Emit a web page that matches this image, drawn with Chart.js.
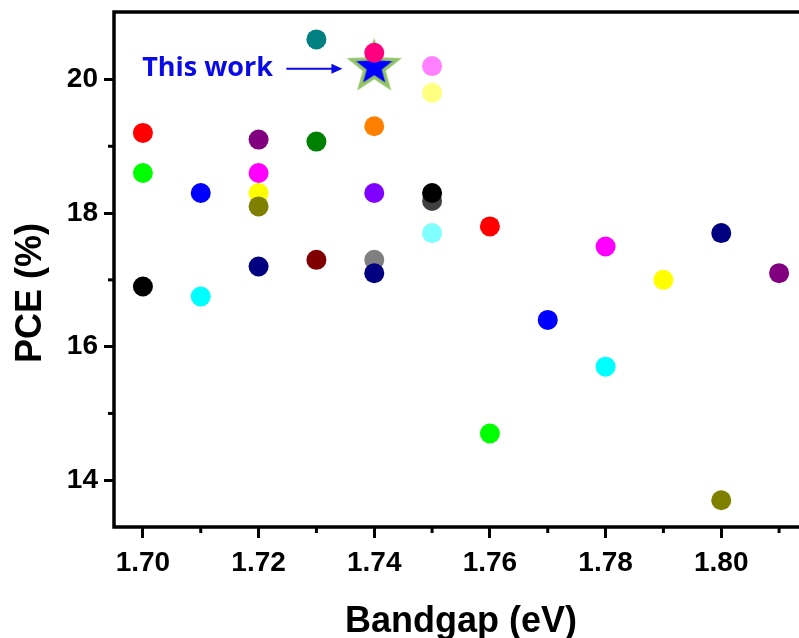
<!DOCTYPE html>
<html>
<head>
<meta charset="utf-8">
<script src="https://cdn.jsdelivr.net/npm/chart.js@4"></script>
<style>
  html, body { margin: 0; padding: 0; background: #fff; overflow: hidden; }
  canvas { display: block; }
</style>
</head>
<body>
<canvas id="pceChart" width="812" height="638"></canvas>
<script>
// valores
const bandgap = [1.70, 1.70, 1.70, 1.71, 1.71, 1.72, 1.72, 1.72, 1.72, 1.72,
                 1.73, 1.73, 1.73, 1.74, 1.74, 1.74, 1.74, 1.74,
                 1.75, 1.75, 1.75, 1.75, 1.75, 1.76, 1.76, 1.77, 1.78, 1.78,
                 1.79, 1.80, 1.80, 1.81];
const pce = [19.2, 18.6, 16.9, 18.3, 16.75, 19.1, 18.6, 18.3, 18.1, 17.2,
             20.6, 19.07, 17.3, 20.4, 19.3, 18.3, 17.3, 17.1,
             20.2, 19.8, 18.18, 18.3, 17.7, 17.8, 14.7, 16.4, 17.5, 15.7,
             17.0, 17.7, 13.7, 17.1];
const pointColors = ['#ff0000', '#00ff00', '#000000', '#0000ff', '#00ffff',
                     '#800080', '#ff00ff', '#ffff00', '#808000', '#000080',
                     '#008080', '#008000', '#800000',
                     '#ff0080', '#ff8000', '#8000ff', '#808080', '#000080',
                     '#ff80ff', '#ffff80', '#404040', '#000000', '#80ffff',
                     '#ff0000', '#00ff00', '#0000ff', '#ff00ff', '#00ffff',
                     '#ffff00', '#000080', '#808000', '#800080'];

const thisWork = { x: 1.74, y: 20.2 };

const xMajor = [1.70, 1.72, 1.74, 1.76, 1.78, 1.80];
const xMinor = [1.71, 1.73, 1.75, 1.77, 1.79, 1.81];
const yMajor = [14, 16, 18, 20];
const yMinor = [15, 17, 19];

// estrela de cinco pontas (o 'star' do Chart.js e so um asterisco)
function makeStar() {
  const c = document.createElement('canvas');
  c.width = 56; c.height = 56;
  const g = c.getContext('2d');
  g.beginPath();
  for (let i = 0; i < 10; i++) {
    const r = i % 2 === 0 ? 24 : 10;
    const a = -Math.PI / 2 + i * Math.PI / 5;
    const px = 28 + r * Math.cos(a), py = 29 + r * Math.sin(a);
    if (i === 0) g.moveTo(px, py); else g.lineTo(px, py);
  }
  g.closePath();
  g.fillStyle = '#0000ff';
  g.fill();
  g.lineWidth = 3.5;
  g.lineJoin = 'miter';
  g.strokeStyle = '#94c46a';
  g.stroke();
  return c;
}

// moldura, ticks menores, titulos e a anotacao "This work"
const extras = {
  id: 'extras',
  afterDraw(chart) {
    const ctx = chart.ctx;
    const a = chart.chartArea;
    const xs = chart.scales.x, ys = chart.scales.y;
    ctx.save();
    ctx.strokeStyle = '#000';
    ctx.lineWidth = 3.5;
    ctx.strokeRect(a.left, a.top, a.right - a.left, a.bottom - a.top);

    ctx.lineWidth = 3;
    xMinor.forEach(v => {
      const px = xs.getPixelForValue(v);
      ctx.beginPath(); ctx.moveTo(px, a.bottom); ctx.lineTo(px, a.bottom + 6); ctx.stroke();
    });
    yMinor.forEach(v => {
      const py = ys.getPixelForValue(v);
      ctx.beginPath(); ctx.moveTo(a.left, py); ctx.lineTo(a.left - 6, py); ctx.stroke();
    });

    ctx.fillStyle = '#000';
    ctx.font = 'bold 36px "Liberation Sans", Arial, sans-serif';
    ctx.textAlign = 'center';
    ctx.textBaseline = 'alphabetic';
    ctx.fillText('Bandgap (eV)', (a.left + a.right) / 2, 632);
    ctx.save();
    ctx.translate(41, 293);
    ctx.rotate(-Math.PI / 2);
    ctx.fillText('PCE (%)', 0, 0);
    ctx.restore();

    // anotacao
    const ty = ys.getPixelForValue(20.16);
    ctx.fillStyle = '#0a0ae6';
    ctx.font = 'bold 27px "Open Sans", "Noto Sans", sans-serif';
    ctx.textAlign = 'right';
    ctx.textBaseline = 'middle';
    ctx.fillText('This work', xs.getPixelForValue(1.7225), ty);
    const x0 = xs.getPixelForValue(1.7248), x1 = xs.getPixelForValue(1.7345);
    ctx.strokeStyle = '#0a0ae6';
    ctx.lineWidth = 2;
    ctx.beginPath(); ctx.moveTo(x0, ty); ctx.lineTo(x1 - 4, ty); ctx.stroke();
    ctx.fillStyle = '#0a0ae6';
    ctx.beginPath();
    ctx.moveTo(x1, ty); ctx.lineTo(x1 - 11, ty - 5); ctx.lineTo(x1 - 11, ty + 5);
    ctx.closePath(); ctx.fill();
    ctx.restore();
  }
};

const tickFont = { family: '"Liberation Sans", Arial, sans-serif', size: 28, weight: 'bold' };

new Chart(document.getElementById('pceChart').getContext('2d'), {
  type: 'scatter',
  data: {
    datasets: [{
      data: bandgap.map((b, i) => ({ x: b, y: pce[i] })),
      backgroundColor: pointColors,
      borderWidth: 0,
      pointRadius: 10,
      pointHoverRadius: 10
    }, {
      data: [thisWork],
      pointStyle: makeStar(),
      borderWidth: 0,
      pointRadius: 10,
      pointHoverRadius: 10
    }]
  },
  options: {
    responsive: false,
    animation: false,
    devicePixelRatio: 1,
    layout: { autoPadding: false, padding: { top: 12, right: 4, left: 0, bottom: 0 } },
    plugins: { legend: { display: false }, tooltip: { enabled: false } },
    scales: {
      x: {
        type: 'linear',
        min: 1.695,
        max: 1.815,
        afterBuildTicks: s => { s.ticks = xMajor.map(v => ({ value: v })); },
        afterFit: s => { s.height = 111; s.paddingLeft = 0; s.paddingRight = 0; },
        grid: { drawOnChartArea: false, tickLength: 11, lineWidth: 3, color: '#000' },
        border: { display: false },
        ticks: { font: tickFont, color: '#000', padding: 8, maxRotation: 0,
                 callback: v => v.toFixed(2) }
      },
      y: {
        type: 'linear',
        min: 13.3,
        max: 21.01,
        afterBuildTicks: s => { s.ticks = yMajor.map(v => ({ value: v })); },
        afterFit: s => { s.width = 114; s.paddingTop = 0; s.paddingBottom = 0; },
        grid: { drawOnChartArea: false, tickLength: 10, lineWidth: 3, color: '#000' },
        border: { display: false },
        ticks: { font: tickFont, color: '#000', padding: 6,
                 callback: v => String(v) }
      }
    }
  },
  plugins: [extras]
});
</script>
</body>
</html>
